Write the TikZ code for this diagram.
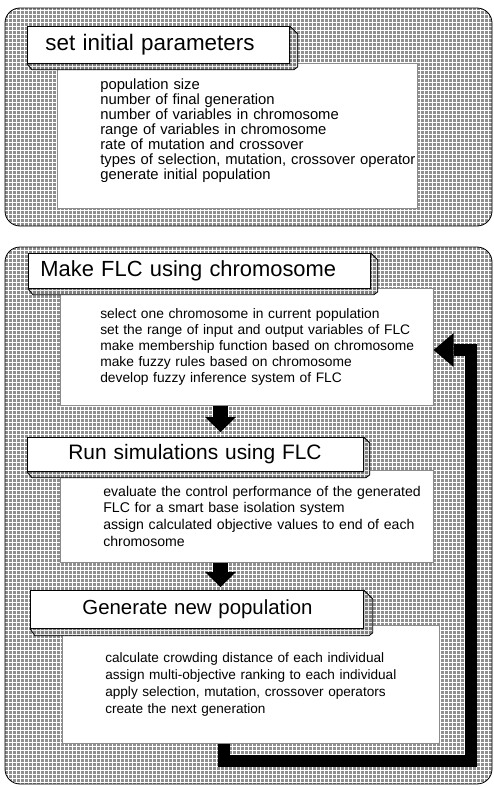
\documentclass[tikz,border=0pt]{standalone}
\usepackage{fontspec}
\setmainfont{Liberation Sans}
\usetikzlibrary{patterns,arrows.meta,calc}
\pgfdeclarepatternformonly{pgrid}{\pgfqpoint{-1pt}{-1pt}}{\pgfqpoint{5pt}{5pt}}{\pgfqpoint{4pt}{4pt}}{%
  \pgfsetlinewidth{1pt}%
  \pgfpathmoveto{\pgfqpoint{0pt}{0pt}}\pgfpathlineto{\pgfqpoint{0pt}{4.1pt}}%
  \pgfpathmoveto{\pgfqpoint{0pt}{0pt}}\pgfpathlineto{\pgfqpoint{4.1pt}{0pt}}%
  \pgfusepath{stroke}}
\tikzset{
  bg/.style={preaction={fill=black!44}, pattern=pgrid, pattern color=white},
  panel/.style={bg, draw=black, line width=0.8pt, rounded corners=15pt},
  bevel/.style={preaction={fill=black!50}, pattern=pgrid, pattern color=white!92!black, draw=black, line width=0.8pt, line join=round},
  titlebox/.style={draw=black, line width=0.8pt, fill=white, anchor=north west, align=left, inner ysep=0pt},
  contentbox/.style={draw=black!45, line width=0.6pt, fill=white, anchor=north west, align=left, inner ysep=0pt},
  downarrow/.style={line width=15pt, -{Triangle[width=31pt,length=15pt,line width=0pt]}},
  looparrow/.style={line width=12pt, line join=miter, -{Triangle[width=34pt,length=20pt,line width=0pt]}}
}
\newcommand{\bevelbox}[3]{%
  \draw[bevel] (#1.north east) -- ++(#2,#2) -- ($(#1.south east)+(#2,#3-3)$) -- ($(#1.south east)+(#2-4,#3)$) -- ($(#1.south west)+(5,#3)$) -- (#1.south west) -- (#1.south east) -- cycle;}
\begin{document}
\begin{tikzpicture}[x=1pt,y=-1pt]
\useasboundingbox (0,0) rectangle (494,787);
% panels
\draw[panel] (5,8) rectangle (492,226);
\draw[panel] (5,247) rectangle (492,784);

% content boxes
\node[contentbox, minimum width=360pt, minimum height=145pt, inner xsep=43pt, text width=274pt,
      font={\fontsize{14.8}{15}\selectfont}] (c1) at (57,63)
  {\mbox{population size}\\\mbox{number of final generation}\\\mbox{number of variables in chromosome}\\\mbox{range of variables in chromosome}\\\mbox{rate of mutation and crossover}\\\mbox{types of selection, mutation, crossover operator}\\\mbox{generate initial population}\\[-2pt]\mbox{}};
\node[contentbox, minimum width=373pt, minimum height=117pt, inner xsep=40pt, text width=293pt,
      font={\fontsize{13.8}{16}\selectfont}] (c2) at (60,288)
  {\mbox{select one chromosome in current population}\\\mbox{set the range of input and output variables of FLC}\\\mbox{make membership function based on chromosome}\\\mbox{make fuzzy rules based on chromosome}\\\mbox{develop fuzzy inference system of FLC}};
\node[contentbox, minimum width=373pt, minimum height=92pt, inner xsep=43pt, text width=287pt,
      font={\fontsize{14.1}{16.7}\selectfont}] (c3) at (60,470)
  {\mbox{evaluate the control performance of the generated}\\\mbox{FLC for a smart base isolation system}\\\mbox{assign calculated objective values to end of each}\\\mbox{chromosome}};
\node[contentbox, minimum width=377pt, minimum height=118pt, inner xsep=43pt, text width=291pt,
      font={\fontsize{13.6}{17}\selectfont}] (c4) at (62,625)
  {\mbox{calculate crowding distance of each individual}\\\mbox{assign multi-objective ranking to each individual}\\\mbox{apply selection, mutation, crossover operators}\\\mbox{create the next generation}};

% title boxes
\node[titlebox, minimum width=262pt, minimum height=37pt, inner xsep=18pt, text width=226pt,
      font={\fontsize{22.4}{26}\selectfont}] (t1) at (27,26) {\mbox{set initial parameters}};
\bevelbox{t1}{8}{6}
\node[titlebox, minimum width=342pt, minimum height=35pt, inner xsep=12pt, text width=318pt,
      font={\fontsize{21.9}{26}\selectfont}] (t2) at (28,253) {\mbox{Make FLC using chromosome}};
\bevelbox{t2}{7}{6}
\node[titlebox, minimum width=336pt, minimum height=34pt, inner xsep=41pt, text width=254pt,
      font={\fontsize{20.9}{25}\selectfont}] (t3) at (27,437) {\mbox{Run simulations using FLC}};
\bevelbox{t3}{6}{6}
\node[titlebox, minimum width=333pt, minimum height=38pt, inner xsep=52pt, text width=229pt,
      font={\fontsize{20.4}{25}\selectfont}] (t4) at (30,590) {\mbox{Generate new population}};
\bevelbox{t4}{9}{7}

% down arrows
\coordinate (ax) at (220.5,0);
\draw[downarrow, shorten >=5pt] (c2.south -| ax) -- (t3.north -| ax);
\draw[downarrow, shorten >=3pt] (c3.south -| ax) -- (t4.north -| ax);

% feedback loop
\coordinate (fbl) at (223.5,761);
\coordinate (fbr) at (470.5,761);
\coordinate (fbt) at (470.5,350);
\draw[looparrow] (c4.south -| fbl) -- (fbl) -- (fbr) -- (fbt) -- (c2.east |- fbt);
\end{tikzpicture}
\end{document}
